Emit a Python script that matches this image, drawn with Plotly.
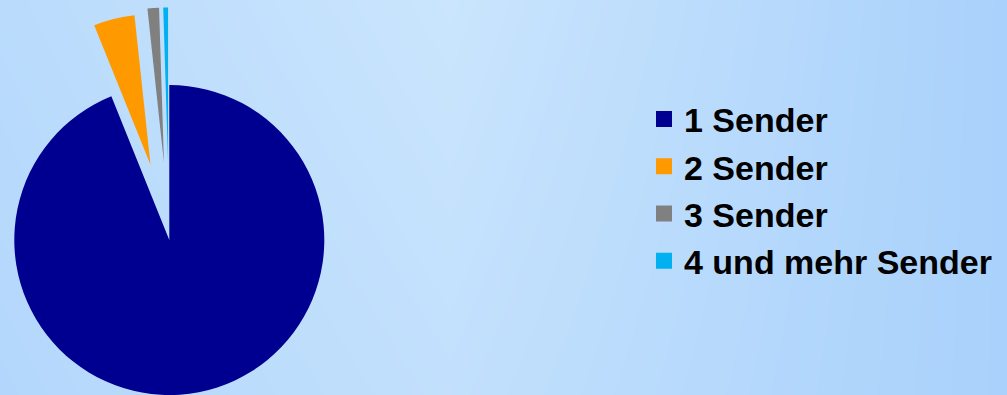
import math
import plotly.graph_objects as go

# ---- data ----
categories = ["1 Sender", "2 Sender", "3 Sender", "4 und mehr Sender"]
values = [93.9, 4.4, 1.2, 0.5]
pulls = [0.0, 0.5, 0.5, 0.5]
colors = ["#000090", "#ff9900", "#808080", "#00b0f0"]

# ---- layout geometry (pixels) ----
W, H = 1007, 395
R = 155.0
CX, CY = 169.3, 240.0

fig = go.Figure()

# background gradient (styling only)
bg_x = [0, 450, 1007]
bg_y = [0, 395]
bg_z = [[0.5, 1.0, 0.0], [0.3, 0.75, 0.0]]
fig.add_trace(go.Heatmap(
    x=bg_x, y=bg_y, z=bg_z, zsmooth="best", zmin=0, zmax=1,
    colorscale=[[0, "#a9d1fb"], [1, "#cae5fd"]], showscale=False,
    hoverinfo="skip", xaxis="x", yaxis="y"))

total = sum(values)
cum = 0.0
for i, (lab, v) in enumerate(zip(categories, values)):
    mid = (cum + v / 2) / total * 2 * math.pi
    cum += v
    d = pulls[i] * R
    cx = CX + d * math.sin(mid)
    cy = CY - d * math.cos(mid)
    half = min(R, cx, W - cx, cy, H - cy)
    cols = ["rgba(0,0,0,0)"] * len(values)
    cols[i] = colors[i]
    fig.add_trace(go.Pie(
        labels=categories, values=values, sort=False, direction="clockwise",
        rotation=0, textinfo="none", showlegend=False,
        marker=dict(colors=cols, line=dict(width=0)),
        hoverinfo="label+percent",
        domain=dict(x=[(cx - half) / W, (cx + half) / W],
                    y=[1 - (cy + half) / H, 1 - (cy - half) / H])))

# legend entries
for i, lab in enumerate(categories):
    fig.add_trace(go.Scatter(
        x=[None], y=[None], mode="markers", name=lab,
        marker=dict(symbol="square", size=16, color=colors[i]),
        xaxis="x", yaxis="y"))

fig.update_layout(
    width=W, height=H,
    margin=dict(l=0, r=0, t=0, b=0, autoexpand=False),
    paper_bgcolor="#c4e2fc", plot_bgcolor="rgba(0,0,0,0)",
    xaxis=dict(range=[0, W], visible=False, domain=[0, 1], fixedrange=True),
    yaxis=dict(range=[H, 0], visible=False, domain=[0, 1], fixedrange=True),
    legend=dict(x=644 / W, y=1 - 190 / H, xanchor="left", yanchor="middle",
                bgcolor="rgba(0,0,0,0)",
                font=dict(family="Liberation Sans, Arial, sans-serif",
                          size=34, color="black", weight="bold")),
    showlegend=True,
)

fig.write_html("out.html", post_script="document.body.style.margin='0';",
               config={"displayModeBar": False})
